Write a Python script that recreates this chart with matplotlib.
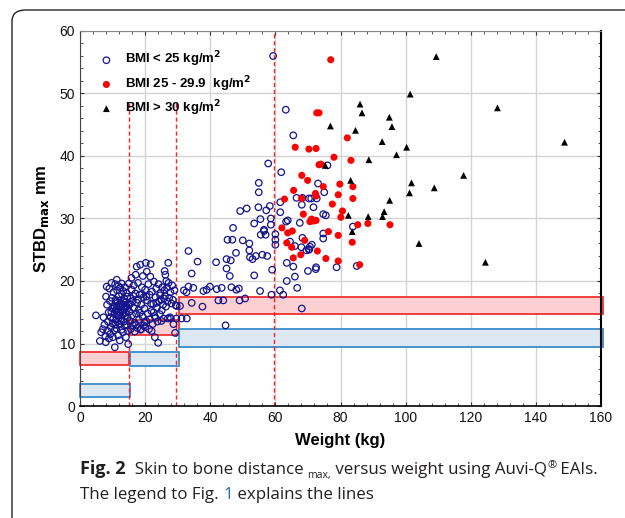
import numpy as np
import matplotlib
matplotlib.use("Agg")
import matplotlib.pyplot as plt
from matplotlib.patches import Rectangle, FancyBboxPatch
from matplotlib.ticker import MultipleLocator

plt.rcParams['font.family'] = ['Liberation Sans', 'DejaVu Sans']

# BMI < 25 (open circles)
lt25_weight = [
    4.9, 6.1, 6.5, 7.0, 7.5, 7.9, 7.2, 7.8, 8.2, 8.0, 8.3, 8.5, 8.6, 8.8, 8.9, 9.0, 9.2, 9.3, 9.4, 9.5,
    9.7, 9.8, 9.9, 10.0, 10.1, 10.3, 10.4, 10.5, 10.6, 10.7, 10.8, 10.9, 11.0, 11.1, 11.2, 11.3, 11.4,
    11.5, 11.6, 11.7, 11.8, 11.9, 12.0, 12.1, 12.2, 12.3, 12.4, 12.5, 12.6, 12.7, 12.8, 12.9, 13.0,
    13.1, 13.2, 13.3, 13.4, 13.5, 13.6, 13.7, 13.8, 13.9, 14.0, 14.1, 14.2, 14.3, 14.4, 14.5, 14.6,
    14.7, 14.8, 14.9, 15.0, 15.2, 15.3, 15.5, 15.6, 15.8, 15.9, 16.0, 16.2, 16.3, 16.5, 16.6, 16.8,
    17.0, 17.1, 17.2, 17.4, 17.5, 17.6, 17.8, 18.0, 18.1, 18.3, 18.5, 18.6, 18.8, 19.0, 19.2, 19.3,
    19.5, 19.6, 19.8, 20.0, 20.2, 20.3, 20.5, 20.6, 20.8, 21.0, 21.2, 21.4, 21.6, 21.7, 21.9, 22.1,
    22.3, 22.5, 22.7, 22.9, 23.0, 23.2, 23.4, 23.6, 23.8, 24.0, 24.1, 24.3, 24.5, 24.7, 24.9, 25.1,
    25.3, 25.5, 25.7, 25.9, 26.0, 26.1, 26.2, 26.4, 26.5, 26.7, 26.9, 27.1, 27.2, 27.4, 27.6, 27.8,
    27.9, 28.1, 28.3, 28.5, 28.7, 29.0, 29.2, 29.4, 29.6,
    9.6, 10.2, 10.6, 11.0, 11.4, 11.8, 12.2, 12.6, 13.0, 13.4, 13.8, 14.2, 12.0, 11.2, 10.8, 13.6,
    14.6, 15.4, 16.4, 17.8, 19.0, 20.4, 21.8, 23.4, 24.6, 25.8, 22.6, 18.4, 16.8, 20.0, 22.0, 25.0,
    27.0, 18.8, 17.2, 19.8, 21.4, 23.2,
    29.7, 30.7, 31.2, 32.8, 31.9, 32.7, 33.3, 34.3, 34.8, 34.3, 33.3, 36.1, 37.6, 37.9, 38.9, 39.9,
    41.8, 42.0, 42.5, 43.5, 44.0, 44.7, 45.0, 45.3, 45.0, 46.0, 46.3, 46.8, 46.5, 47.0, 47.9, 48.0,
    48.8, 49.0, 49.2, 50.0, 50.7, 51.2, 52.0, 52.0, 52.2, 53.0, 53.5, 53.5, 54.0, 54.8, 54.9, 54.9,
    55.3, 55.4, 55.5, 56.0, 56.5, 57.0, 57.2, 57.5, 57.8, 58.3, 58.6, 58.8, 59.0, 59.3, 60.0, 60.0,
    60.0, 61.4, 61.5, 61.5, 61.8, 62.4, 63.2, 63.3, 63.5, 63.5, 63.8, 64.5, 65.5, 65.5, 66.0, 66.0,
    66.5, 66.7, 67.5, 68.0, 68.1, 68.3, 68.3, 69.5, 70.0, 70.3, 70.3, 70.4, 70.6, 71.0, 71.2, 71.7,
    72.4, 72.5, 72.7, 73.1, 74.7, 74.7, 74.7, 75.0, 75.5, 76.0, 78.8, 83.8, 85.0, 68.1, 56.5, 58.6,
]
lt25_stbd = [
    14.5, 10.4, 11.8, 12.3, 13.0, 10.2, 14.2, 11.2, 19.1, 17.5, 16.2, 12.0, 13.5, 15.0, 10.8, 18.8, 16.8, 11.5, 14.2, 12.6,
    19.7, 17.3, 15.6, 13.2, 11.0, 18.2, 16.0, 14.7, 12.1, 9.4, 19.5, 17.0, 15.3, 13.8, 12.4, 20.2, 18.5,
    16.5, 14.5, 11.3, 19.2, 17.6, 15.8, 13.1, 10.5, 18.9, 16.9, 15.0, 14.0, 12.2, 19.6, 17.9, 16.2,
    14.6, 11.8, 18.4, 15.5, 13.5, 17.2, 12.8, 19.0, 16.6, 14.9, 11.0, 18.1, 15.9, 13.0, 17.5, 14.2,
    12.0, 9.9, 16.4, 19.6, 15.1, 13.6, 17.2, 12.3, 20.5, 18.6, 14.5, 16.8, 12.9, 19.3, 15.7, 13.3,
    18.0, 21.0, 14.8, 22.3, 16.5, 12.5, 19.7, 15.4, 13.8, 17.8, 22.6, 12.2, 16.2, 19.0, 14.3, 20.8,
    17.4, 12.9, 15.6, 18.6, 22.9, 13.6, 21.5, 16.9, 14.8, 19.5, 12.3, 17.8, 20.7, 22.7, 15.2, 18.3,
    13.1, 16.3, 19.9, 14.4, 11.0, 17.4, 18.8, 15.7, 13.5, 10.1, 19.5, 16.8, 14.7, 18.1, 17.0, 15.3,
    19.0, 16.2, 14.0, 18.5, 21.6, 17.6, 21.0, 15.9, 20.0, 18.9, 16.7, 22.9, 19.7, 17.3, 14.2, 18.2,
    14.0, 16.4, 19.3, 17.0, 13.1, 18.5, 11.7, 16.1, 14.0,
    15.1, 14.0, 15.9, 16.8, 13.5, 15.1, 16.3, 13.6, 15.3, 16.8, 14.4, 16.0, 14.5, 15.9, 13.0, 15.9,
    15.6, 16.3, 17.6, 17.0, 17.9, 17.5, 16.4, 16.5, 17.7, 17.2, 15.0, 14.9, 11.9, 12.6, 12.0, 13.6,
    14.0, 12.3, 13.0, 13.4, 13.9, 14.1,
    16.0, 16.0, 14.0, 14.0, 18.5, 18.2, 19.1, 16.5, 18.9, 21.2, 24.8, 23.1, 15.9, 18.4, 18.6, 19.1,
    23.0, 18.7, 16.9, 18.9, 16.9, 12.9, 23.5, 26.6, 22.0, 20.8, 23.3, 26.6, 19.0, 28.5, 24.5, 18.6,
    18.8, 16.9, 31.2, 26.5, 17.2, 31.6, 26.0, 24.9, 23.8, 23.5, 29.2, 20.9, 24.0, 31.8, 35.7, 34.2,
    18.4, 29.9, 27.4, 24.2, 28.2, 27.4, 31.3, 24.0, 38.8, 32.0, 29.0, 17.8, 21.8, 56.0, 27.5, 26.6,
    25.8, 18.5, 32.6, 31.0, 37.4, 17.8, 47.4, 29.5, 22.9, 20.0, 29.7, 26.3, 22.3, 43.3, 25.6, 20.7,
    33.3, 18.9, 29.3, 25.4, 32.2, 26.9, 33.3, 24.9, 21.6, 33.2, 25.0, 25.1, 25.5, 33.2, 25.8, 31.8,
    21.9, 22.2, 33.2, 35.6, 27.6, 26.8, 30.7, 34.2, 30.5, 38.5, 22.2, 28.7, 22.4, 15.6, 28.0, 30.0,
]

# BMI 25 - 29.9 (filled red)
mid_weight = [
    77.0, 72.7, 73.4, 66.1, 70.3, 72.5, 82.1, 78.0, 83.2, 73.4, 74.0, 68.1, 69.9, 65.6, 74.7, 79.8,
    83.8, 62.8, 68.1, 72.3, 72.5, 79.3, 83.8, 77.5, 68.6, 80.6, 80.1, 71.1, 72.5, 71.7, 85.3, 88.4,
    95.2, 79.3, 83.6, 72.9, 67.8, 75.5, 79.3, 85.9, 63.8, 65.2, 63.5, 65.5, 76.3, 70.6, 65.0, 69.0, 62.0,
]
mid_stbd = [
    55.4, 46.9, 46.9, 41.4, 41.1, 41.2, 42.9, 39.8, 39.3, 38.6, 38.7, 36.9, 36.1, 34.5, 35.1, 35.5,
    35.1, 33.1, 33.2, 34.0, 33.6, 33.8, 33.2, 32.3, 30.7, 31.2, 30.2, 29.9, 29.7, 29.6, 29.0, 29.2,
    29.0, 27.3, 26.2, 24.8, 24.2, 23.6, 23.2, 22.6, 27.7, 28.0, 26.1, 23.7, 27.9, 29.5, 25.4, 26.5, 28.5,
]

# BMI > 30 (black triangles)
gt30_weight = [
    109.4, 101.4, 86.0, 86.6, 95.0, 95.8, 76.9, 84.6, 92.8, 100.3, 97.2, 88.7, 75.3, 117.8, 83.1,
    101.8, 101.2, 108.8, 95.1, 93.4, 92.9, 88.5, 82.4, 128.2, 148.8, 83.6, 104.1, 124.5,
]
gt30_stbd = [
    55.9, 49.9, 48.3, 46.9, 46.2, 44.7, 44.8, 44.1, 42.3, 41.4, 40.2, 39.4, 38.5, 36.9, 36.1,
    35.7, 34.1, 34.9, 32.9, 31.1, 30.3, 30.3, 30.5, 47.7, 42.2, 27.9, 26.0, 23.0,
]

# reference bands: (weight from, weight to, stbd low, stbd high)
red_bands = [(0, 15, 6.6, 8.7), (15, 30.5, 11.4, 13.7), (30.5, 160.5, 14.7, 17.4)]
blue_bands = [(0, 15.4, 1.5, 3.6), (15.4, 30.5, 6.4, 8.6), (30.5, 160.5, 9.5, 12.4)]
cut_weights = [15, 29.5, 59.5]
cut_tops = [48.5, 48.5, 60]

fig = plt.figure(figsize=(6.25, 5.18), dpi=100)
ax = fig.add_axes([0.128, 0.2162, 0.8336, 0.724])

# rounded frame round the figure
frame = FancyBboxPatch((12 / 625, -12 / 518), 1.2, (518 - 10 + 12) / 518,
                       boxstyle="round,pad=0,rounding_size=0.022",
                       transform=fig.transFigure, fill=False, ec="#222222", lw=1.0)
fig.patches.append(frame)

for x0, x1, y0, y1 in red_bands:
    ax.add_patch(Rectangle((x0, y0), x1 - x0, y1 - y0, fc="#fcd0d2", ec="#f03030",
                           lw=1.3, zorder=1, clip_on=False))
for x0, x1, y0, y1 in blue_bands:
    ax.add_patch(Rectangle((x0, y0), x1 - x0, y1 - y0, fc="#dde8f4", ec="#3a8ccc",
                           lw=1.3, zorder=1, clip_on=False))

for xw, top in zip(cut_weights, cut_tops):
    ax.plot([xw, xw], [0, top], color="#ff2020", ls=(0, (3, 2)), lw=1.0, zorder=2)

ax.scatter(lt25_weight, lt25_stbd, s=22, facecolors="none", edgecolors="#14148c",
           linewidths=0.9, zorder=3, label="BMI < 25 kg/m$^{\\mathbf{2}}$")
ax.scatter(mid_weight, mid_stbd, s=26, color="#ff0000", edgecolors="none", zorder=4,
           label="BMI 25 - 29.9  kg/m$^{\\mathbf{2}}$")
ax.scatter(gt30_weight, gt30_stbd, s=24, marker="^", color="black", edgecolors="none",
           zorder=4, label="BMI > 30 kg/m$^{\\mathbf{2}}$")

ax.set_xlim(0, 160)
ax.set_ylim(0, 60)
ax.xaxis.set_major_locator(MultipleLocator(20))
ax.xaxis.set_minor_locator(MultipleLocator(4))
ax.yaxis.set_major_locator(MultipleLocator(10))
ax.yaxis.set_minor_locator(MultipleLocator(2))
ax.tick_params(which="both", direction="in", top=True, right=True, labelsize=10,
               colors="#333333", labelcolor="#111111")
ax.tick_params(which="major", length=3)
ax.tick_params(which="minor", length=2.5)
ax.grid(True, which="major", color="#d4d4d4", lw=1.0, zorder=0)
ax.set_axisbelow(True)
ax.spines["top"].set_color("#888888")
ax.spines["left"].set_color("#444444")
ax.spines["right"].set_linewidth(1.5)
ax.spines["bottom"].set_linewidth(1.2)

ax.set_xlabel("Weight (kg)", fontsize=12, fontweight="bold", labelpad=6)
ax.set_ylabel("STBD$_{\\mathbf{max}}$ mm", fontsize=12, fontweight="bold", labelpad=6)

leg = ax.legend(loc="upper left", bbox_to_anchor=(0.0, 0.985), frameon=False,
                prop={"weight": "bold", "size": 9.5}, handletextpad=0.4,
                labelspacing=0.35, borderaxespad=0.6, scatterpoints=1)

# caption with mixed styles
renderer = fig.canvas.get_renderer()
cap_color = "#231f20"


def caption_line(pieces, x_px, y_px):
    x = x_px
    for txt, kw in pieces:
        opts = dict(family="Open Sans", size=12.2, color=cap_color, va="baseline")
        dy = kw.pop("dy", 0)
        opts.update(kw)
        t = fig.text(x / 625, 1 - (y_px + dy) / 518, txt, **opts)
        bb = t.get_window_extent(renderer)
        x += bb.width


caption_line([
    ("Fig. 2", {"weight": "bold", "size": 13}),
    ("  Skin to bone distance ", {}),
    ("max,", {"size": 7.5, "dy": 4}),
    (" versus weight using Auvi-Q", {}),
    ("®", {"size": 8, "dy": -6}),
    (" EAIs.", {}),
], 80, 474)
caption_line([
    ("The legend to Fig. ", {}),
    ("1", {"color": "#2a6fb5"}),
    (" explains the lines", {}),
], 80, 499)

fig.savefig("out.png", dpi=100)
